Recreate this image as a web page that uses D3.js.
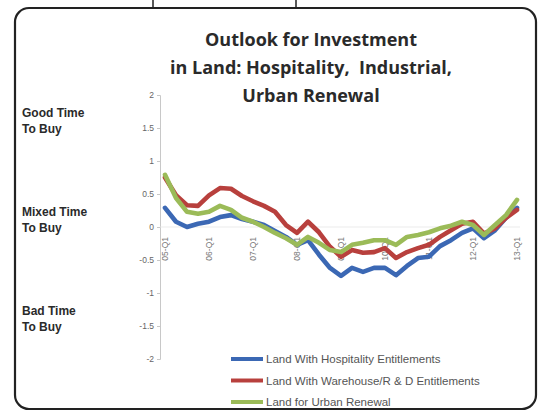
<!DOCTYPE html>
<html><head><meta charset="utf-8">
<script src="https://cdn.jsdelivr.net/npm/d3@7"></script>
<style>
html,body{margin:0;padding:0;background:#fff;}
svg{display:block;}
</style></head>
<body>
<svg id="chart" width="540" height="413"></svg>
<script>
// ---- data ----
const periods = ["05-Q1","05-Q2","05-Q3","05-Q4","06-Q1","06-Q2","06-Q3","06-Q4","07-Q1","07-Q2","07-Q3","07-Q4",
  "08-Q1","08-Q2","08-Q3","08-Q4","09-Q1","09-Q2","09-Q3","09-Q4","10-Q1","10-Q2","10-Q3","10-Q4",
  "11-Q1","11-Q2","11-Q3","11-Q4","12-Q1","12-Q2","12-Q3","12-Q4","13-Q1"];
const tickLabels = ["05-Q1","06-Q1","07-Q1","08-Q1","09-Q1","10-Q1","11-Q1","12-Q1","13-Q1"];
const hospitality = [0.29,0.08,0.0,0.05,0.08,0.15,0.18,0.12,0.08,0.03,-0.06,-0.15,
  -0.27,-0.2,-0.42,-0.62,-0.74,-0.62,-0.68,-0.62,-0.62,-0.73,-0.59,-0.47,
  -0.45,-0.29,-0.2,-0.09,-0.02,-0.17,-0.05,0.14,0.29];
const warehouse = [0.75,0.48,0.33,0.32,0.48,0.59,0.58,0.47,0.39,0.32,0.23,0.03,
  -0.09,0.08,-0.08,-0.3,-0.45,-0.35,-0.39,-0.38,-0.32,-0.47,-0.38,-0.32,
  -0.27,-0.15,-0.05,0.05,0.08,-0.1,-0.02,0.14,0.26];
const urban = [0.79,0.44,0.23,0.2,0.23,0.32,0.26,0.14,0.08,0.0,-0.09,-0.17,
  -0.27,-0.15,-0.24,-0.35,-0.38,-0.27,-0.24,-0.2,-0.2,-0.27,-0.15,-0.12,
  -0.08,-0.02,0.02,0.08,0.03,-0.12,0.03,0.18,0.41];
const seriesNames = ["Land With Hospitality Entitlements","Land With Warehouse/R & D Entitlements","Land for Urban Renewal"];
const seriesColors = ["#3b67b4","#b8403c","#9bbb59"];
const yTicks = [-2,-1.5,-1,-0.5,0,0.5,1,1.5,2];
const titleLines = ["Outlook for Investment","in Land: Hospitality,  Industrial,","Urban Renewal"];
const zoneLabels = [["Good Time","To Buy",1.5],["Mixed Time","To Buy",0],["Bad Time","To Buy",-1.5]];

// ---- drawing ----
const svg = d3.select("#chart");
const defs = svg.append("defs");
defs.append("filter").attr("id","soft").attr("filterUnits","userSpaceOnUse")
  .attr("x",0).attr("y",0).attr("width",540).attr("height",413)
  .append("feGaussianBlur").attr("stdDeviation",0.7);

// frame
svg.append("rect").attr("x",15).attr("y",8).attr("width",521).attr("height",401)
  .attr("rx",14).attr("fill","#fff").attr("stroke","#222").attr("stroke-width",2.2);
svg.append("line").attr("x1",153).attr("x2",153).attr("y1",0).attr("y2",7).attr("stroke","#222").attr("stroke-width",1.5);
svg.append("line").attr("x1",296).attr("x2",296).attr("y1",0).attr("y2",7).attr("stroke","#222").attr("stroke-width",1.5);

const x = d3.scaleLinear().domain([0, periods.length-1]).range([165, 517]);
const y = d3.scaleLinear().domain([-2, 2]).range([359, 95]);

// title
const title = svg.append("text").attr("text-anchor","middle")
  .attr("font-family","'Open Sans', Lato, sans-serif").attr("font-weight","bold")
  .attr("font-size",18).attr("fill","#2a2a2a").style("white-space","pre");
titleLines.forEach((t,i)=>{
  title.append("tspan").attr("x",311).attr("y",46+i*28).text(t);
});

// zone labels
const zg = svg.append("g").attr("font-family","'Liberation Sans', Arial, sans-serif")
  .attr("font-weight","bold").attr("font-size",12).attr("fill","#2a2a2a");
zoneLabels.forEach(z=>{
  const yy = y(z[2]);
  zg.append("text").attr("x",22).attr("y",yy-11).text(z[0]);
  zg.append("text").attr("x",22).attr("y",yy+5).text(z[1]);
});

// y axis
const yAxis = d3.axisLeft(y).tickValues(yTicks).tickSize(3).tickFormat(d=>String(d));
const ya = svg.append("g").attr("transform","translate(160,0)").call(yAxis);
ya.select(".domain").attr("stroke","#c8c8c8");
ya.selectAll(".tick line").attr("stroke","#c8c8c8");
ya.selectAll(".tick text").attr("fill","#666").attr("font-size",8.5)
  .attr("font-family","'Liberation Sans', Arial, sans-serif").attr("x",-6);

// x axis labels (rotated) on the zero line
const xg = svg.append("g").attr("font-family","'Liberation Sans', Arial, sans-serif")
  .attr("font-size",8.5).attr("fill","#777");
periods.forEach((p,i)=>{
  if (tickLabels.indexOf(p) < 0) return;
  xg.append("text").attr("text-anchor","end")
    .attr("transform",`translate(${x(i)+3},${y(0)+10}) rotate(-90)`).text(p);
});
// zero axis line
svg.append("line").attr("x1",160).attr("x2",520).attr("y1",y(0)).attr("y2",y(0))
  .attr("stroke","#e6e6e6").attr("stroke-width",0.8);

// series
const line = d3.line().x((d,i)=>x(i)).y(d=>y(d));
const lg = svg.append("g").attr("filter","url(#soft)");
[hospitality, warehouse, urban].forEach((s,k)=>{
  lg.append("path").datum(s).attr("d",line).attr("fill","none")
    .attr("stroke",seriesColors[k]).attr("stroke-width",4.6)
    .attr("stroke-linejoin","round").attr("stroke-linecap","round");
});

// legend
const leg = svg.append("g");
seriesNames.forEach((n,k)=>{
  const yy = 359 + k*21.5;
  leg.append("line").attr("x1",231).attr("x2",263).attr("y1",yy).attr("y2",yy)
    .attr("stroke",seriesColors[k]).attr("stroke-width",4).attr("filter","url(#soft)");
  leg.append("text").attr("x",266).attr("y",yy+4)
    .attr("font-family","'Liberation Sans', Arial, sans-serif").attr("font-size",11.5)
    .attr("fill","#555").text(n);
});
</script>
</body></html>
